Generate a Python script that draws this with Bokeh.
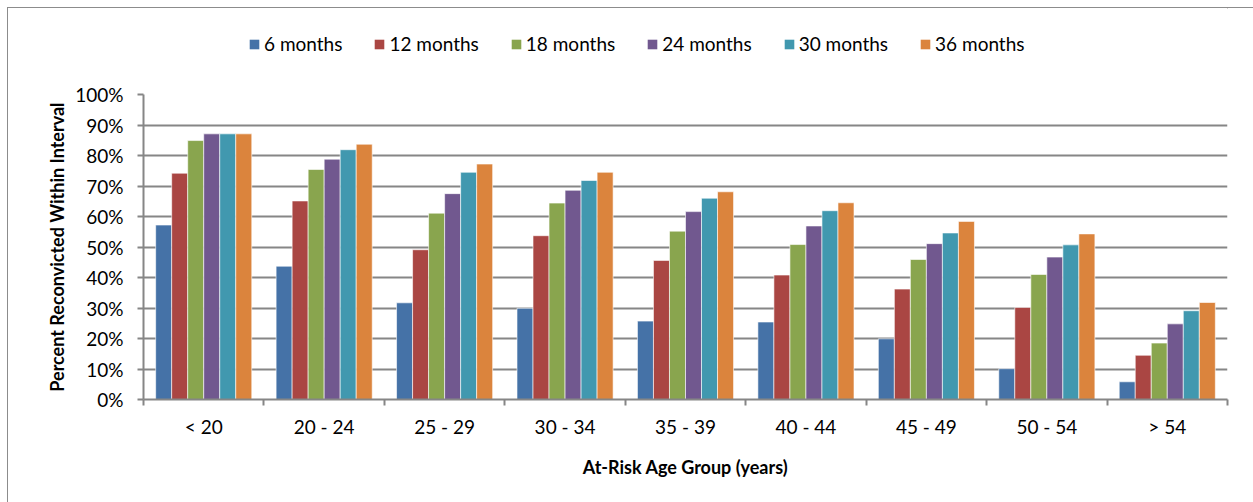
from bokeh.plotting import figure
from bokeh.layouts import column
from bokeh.models import (ColumnDataSource, FixedTicker, PrintfTickFormatter, Legend, LegendItem, Range1d)
from bokeh.embed import file_html
from bokeh.resources import INLINE

categories = ["< 20", "20 - 24", "25 - 29", "30 - 34", "35 - 39", "40 - 44", "45 - 49", "50 - 54", "> 54"]
series_names = ["6 months", "12 months", "18 months", "24 months", "30 months", "36 months"]
m6 = [57.2, 43.7, 31.7, 29.9, 25.7, 25.4, 19.9, 10.1, 5.8]
m12 = [74.2, 65.1, 49.1, 53.7, 45.6, 40.8, 36.2, 30.2, 14.5]
m18 = [84.9, 75.4, 61.1, 64.4, 55.2, 50.8, 45.9, 41.0, 18.5]
m24 = [87.1, 78.8, 67.5, 68.6, 61.6, 56.9, 51.1, 46.7, 24.8]
m30 = [87.1, 81.9, 74.5, 71.8, 66.0, 61.9, 54.6, 50.7, 29.1]
m36 = [87.1, 83.7, 77.2, 74.5, 68.1, 64.5, 58.4, 54.3, 31.8]
series = [m6, m12, m18, m24, m30, m36]
colors = ["#4572A7", "#AA4643", "#89A54E", "#71588F", "#4198AF", "#DB843D"]
y_ticks = [0, 10, 20, 30, 40, 50, 60, 70, 80, 90, 100]

FONT = "Lato"
FS = "19px"
TFS = "18px"
GRAY = "#868686"
W = 1245

# ---- legend strip ----
lg = figure(width=W, height=74, output_backend="svg", toolbar_location=None,
            x_range=Range1d(0, 1), y_range=Range1d(0, 1),
            min_border_left=135, min_border_right=26, min_border_top=0, min_border_bottom=0)
lg.axis.visible = False
lg.grid.visible = False
lg.outline_line_color = None
items = []
for name, col in zip(series_names, colors):
    r = lg.vbar(x=[5], top=[5], bottom=4, width=0.1, fill_color=col, line_color=None)
    items.append(LegendItem(label=name, renderers=[r]))
legend = Legend(items=items, orientation="horizontal", location=(105, 27),
                label_text_font=FONT, label_text_font_size=FS, label_text_color="black",
                glyph_width=12, glyph_height=12, label_standoff=4, spacing=31,
                padding=0, margin=0, border_line_color=None, background_fill_alpha=0)
lg.add_layout(legend, "center")

# ---- main chart ----
n = len(categories)
p = figure(width=W, height=420, output_backend="svg", toolbar_location=None,
           x_range=Range1d(0, n), y_range=Range1d(0, 100),
           min_border_left=135, min_border_right=26, min_border_top=12, min_border_bottom=103)
p.outline_line_color = None
p.background_fill_color = "white"
p.border_fill_color = "white"

bw = 0.133
for k, (name, vals, col) in enumerate(zip(series_names, series, colors)):
    xs = [i + 0.5 + (k - 2.5) * bw for i in range(n)]
    src = ColumnDataSource(dict(x=xs, top=vals))
    p.vbar(x="x", top="top", width=bw, bottom=0, source=src,
           fill_color=col, line_color="white", line_width=0.6)

p.xgrid.grid_line_color = None
p.ygrid.grid_line_color = GRAY
p.ygrid.grid_line_width = 2
p.ygrid.ticker = FixedTicker(ticks=y_ticks)

ya = p.yaxis[0]
ya.ticker = FixedTicker(ticks=y_ticks)
ya.formatter = PrintfTickFormatter(format="%d%%")
ya.axis_line_color = GRAY
ya.axis_line_width = 2
ya.major_tick_line_color = GRAY
ya.major_tick_line_width = 2
ya.major_tick_out = 6
ya.major_tick_in = 0
ya.minor_tick_line_color = None
ya.major_label_text_font = FONT
ya.major_label_text_font_size = FS
ya.major_label_text_color = "black"
ya.major_label_standoff = 14
ya.axis_label = "Percent Reconvicted Within Interval"
ya.axis_label_text_font = FONT
ya.axis_label_text_font_size = TFS
ya.axis_label_text_font_style = "bold"
ya.axis_label_text_color = "black"
ya.axis_label_standoff = 4

xa = p.xaxis[0]
centers = [i + 0.5 for i in range(n)]
xa.ticker = FixedTicker(ticks=centers, minor_ticks=list(range(n + 1)))
xa.major_label_overrides = {c: lab for c, lab in zip(centers, categories)}
xa.axis_line_color = GRAY
xa.axis_line_width = 2
xa.major_tick_line_color = None
xa.minor_tick_line_color = GRAY
xa.minor_tick_line_width = 2
xa.minor_tick_out = 6
xa.minor_tick_in = 0
xa.major_label_text_font = FONT
xa.major_label_text_font_size = FS
xa.major_label_text_color = "black"
xa.major_label_standoff = 9
xa.axis_label = "At-Risk Age Group (years)"
xa.axis_label_text_font = FONT
xa.axis_label_text_font_size = TFS
xa.axis_label_text_font_style = "bold"
xa.axis_label_text_color = "black"
xa.axis_label_standoff = 15

layout = column(lg, p, spacing=0)
layout.styles = {"margin-left": "7px", "margin-top": "7px",
                 "border-left": "1px solid #8c8c8c", "border-top": "1px solid #8c8c8c"}
open("out.html", "w").write(file_html(layout, INLINE))
